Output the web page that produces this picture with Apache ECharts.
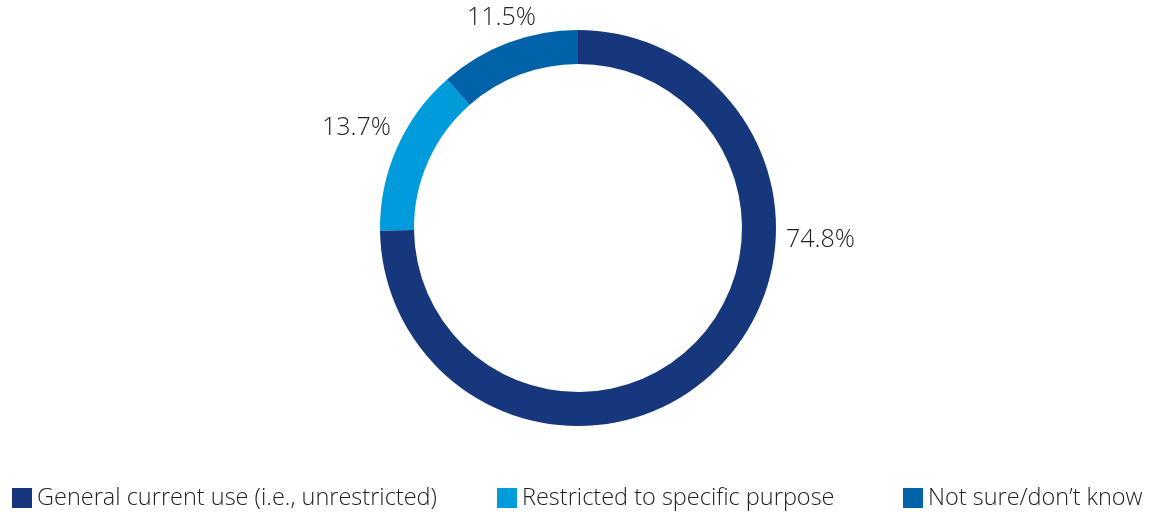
<!DOCTYPE html>
<html>
<head>
<meta charset="utf-8">
<script src="https://cdn.jsdelivr.net/npm/echarts@6/dist/echarts.min.js"></script>
<style>
 html,body{margin:0;padding:0;background:#fff;}
 #container{width:1156px;height:512px;}
</style>
</head>
<body>
<div id="container"></div>
<script>
var categories = ["General current use (i.e., unrestricted)", "Restricted to specific purpose", "Not sure/don\u2019t know"];
var values = [74.8, 13.7, 11.5];
var colors = ["#17377c", "#009bda", "#0062a8"];
var legendLeft = [12, 497, 903];

var dom = document.getElementById("container");
var myChart = echarts.init(dom);
var fontFam = "'Open Sans', 'Noto Sans', sans-serif";

var pieData = [];
for (var i = 0; i < categories.length; i++) {
  pieData.push({ value: values[i], name: categories[i], itemStyle: { color: colors[i] } });
}

var legends = [];
for (var j = 0; j < categories.length; j++) {
  legends.push({
    data: [categories[j]],
    left: legendLeft[j],
    top: 486,
    padding: 0,
    itemWidth: 20,
    itemHeight: 20,
    icon: 'rect',
    itemGap: 0,
    textStyle: { fontSize: 23.5, color: '#222', fontFamily: fontFam, fontWeight: 300 }
  });
}

// where each value label sits (label anchor, not the slice)
var labelSpots = [
  { x: 786, y: 240, align: 'left' },
  { x: 391, y: 128, align: 'right' },
  { x: 536, y: 18, align: 'right' }
];

var option = {
  backgroundColor: '#fff',
  animation: false,
  legend: legends,
  series: [
    {
      name: 'use',
      type: 'pie',
      center: [578, 228],
      radius: [164, 198],
      startAngle: 90,
      clockwise: true,
      avoidLabelOverlap: false,
      label: {
        show: true,
        position: 'outside',
        formatter: function (p) { return p.value.toFixed(1) + '%'; },
        fontSize: 25,
        color: '#222',
        fontFamily: fontFam,
        fontWeight: 300
      },
      labelLine: { show: false },
      labelLayout: function (params) {
        var s = labelSpots[params.dataIndex];
        return { x: s.x, y: s.y, align: s.align, verticalAlign: 'middle' };
      },
      data: pieData
    }
  ]
};
myChart.setOption(option, true);
</script>
</body>
</html>
